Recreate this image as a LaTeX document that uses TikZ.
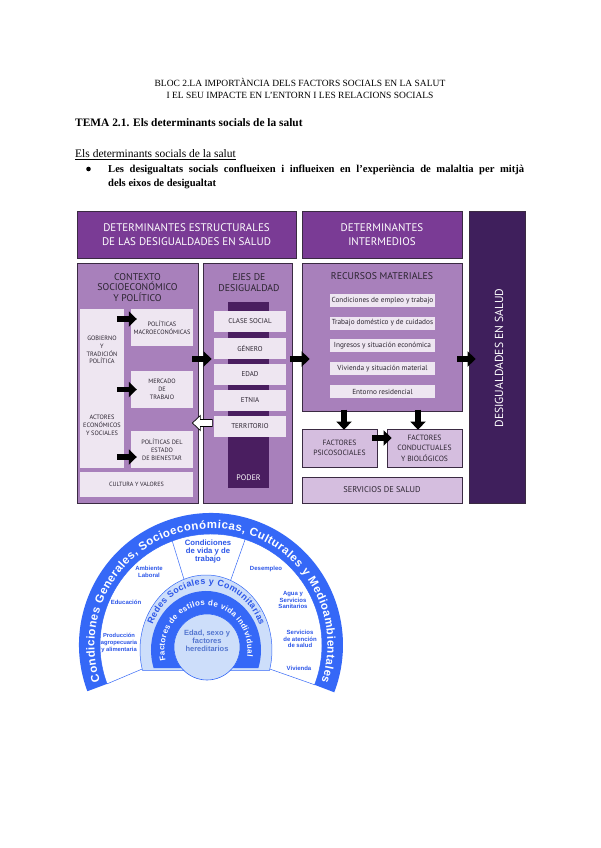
\documentclass[tikz,border=0pt]{standalone}
\usepackage{fontspec}
\setmainfont{Liberation Serif}
\newfontfamily\dsans{PT Sans}
\newfontfamily\rsans{Liberation Sans}
\usetikzlibrary{arrows.meta,decorations.text,calc}
\newcommand{\fsz}[2]{\fontsize{#1}{#2}\selectfont}
\definecolor{hdrP}{HTML}{7A3B95}
\definecolor{darkP}{HTML}{3F1F5C}
\definecolor{panelP}{HTML}{A880BB}
\definecolor{lightP}{HTML}{EEE6F1}
\definecolor{factP}{HTML}{D5BEDF}
\definecolor{poderP}{HTML}{4A1E60}
\definecolor{edgeP}{HTML}{3A2A42}
\definecolor{txtP}{HTML}{2B2430}
\definecolor{ringB}{HTML}{3568F7}
\definecolor{lightB}{HTML}{CDDEFA}
\definecolor{textB}{HTML}{2C56E8}
\definecolor{circT}{HTML}{5577D0}
\begin{document}
\begin{tikzpicture}[x=1pt,y=-1pt,
  box/.style={draw=edgeP, line width=0.7pt, inner sep=0pt},
  panel/.style={box, fill=panelP},
  hdr/.style={box, fill=hdrP, text=white, align=center, font=\dsans\fsz{11}{14}},
  ttl/.style={inner sep=0pt, align=center, text=txtP, font=\dsans\fsz{9.8}{10.8}},
  itemc/.style={fill=lightP, inner sep=0pt, align=center, text=txtP},
  fact/.style={box, fill=factP, align=center, text=txtP, font=\dsans\fsz{7.6}{10.5}},
  coltxt/.style={inner sep=0pt, align=center, text=txtP, font=\dsans\fsz{6.3}{7.6}},
  smallbox/.style={itemc, minimum width=62pt, minimum height=37pt, font=\dsans\fsz{6.3}{8}},
  ejesitem/.style={itemc, minimum width=72pt, minimum height=21pt, font=\dsans\fsz{7}{8}},
  recitem/.style={itemc, minimum width=105pt, minimum height=13pt, font=\dsans\fsz{7.3}{8}},
  barrow/.style={line width=5.5pt, -{Triangle[width=15pt,length=8pt]}, black},
  rtxt/.style={text=textB, font=\rsans\bfseries\fsz{6}{6.8}, align=center, inner sep=0pt}]
\useasboundingbox (0,0) rectangle (600,848);
\fill[white] (0,0) rectangle (600,848);

% ---------- text header ----------
\node[inner sep=0pt, font=\fsz{9.5}{12}] (t1) at (300,82) {BLOC 2.LA IMPORTÀNCIA DELS FACTORS SOCIALS EN LA SALUT};
\node[inner sep=0pt, font=\fsz{9.5}{12}] (t2) at (300,95) {I EL SEU IMPACTE EN L’ENTORN I LES RELACIONS SOCIALS};
\node[inner sep=0pt, anchor=west, font=\bfseries\fsz{11.4}{13}] (tema) at (75,123) {TEMA 2.1. Els determinants socials de la salut};
\node[inner sep=0pt, anchor=west, font=\fsz{11.5}{13}] (sub) at (75,155) {\underline{Els determinants socials de la salut}};
\node[circle, fill=black, inner sep=0pt, minimum size=4.6pt] (bul) at (88.5,169) {};
\node[inner sep=0pt, anchor=north west, text width=416pt, align=justify, font=\bfseries\fsz{10.6}{14}] (btxt) at (108,164.5)
  {Les desigualtats socials conflueixen i influeixen en l’experiència de malaltia per mitjà\linebreak dels eixos de desigualtat};

% ---------- purple diagram ----------
\node[hdr, minimum width=219pt, minimum height=47pt] (hdrL) at (186.5,234.5) {DETERMINANTES ESTRUCTURALES\\DE LAS DESIGUALDADES EN SALUD};
\node[hdr, minimum width=160pt, minimum height=47pt] (hdrM) at (382,234.5) {DETERMINANTES\\INTERMEDIOS};
\node[box, fill=darkP, minimum width=56pt, minimum height=292pt] (tallR) at (497,357) {};
\node[text=white, inner sep=0pt, font=\dsans\fsz{11.6}{13}, rotate=90] (tallT) at (499,358) {DESIGUALDADES EN SALUD};

% contexto
\node[panel, minimum width=121pt, minimum height=240pt] (ctx) at (137.5,383) {};
\node[ttl] (ctxT) at (137.5,287.5) {CONTEXTO\\SOCIOECONÓMICO\\Y POLÍTICO};
\node[itemc, minimum width=44pt, minimum height=159pt] (col) at (102,388.5) {};
\node[coltxt] (gob) at (102,350) {GOBIERNO\\Y\\TRADICIÓN\\POLÍTICA};
\node[coltxt, font=\dsans\fsz{6.3}{8}] (act) at (102,425) {ACTORES\\ECONÓMICOS\\Y SOCIALES};
\node[smallbox] (macro) at (162,327.5) {POLÍTICAS\\MACROECONÓMICAS};
\node[smallbox] (merc) at (162,389.5) {MERCADO\\DE\\TRABAJO};
\node[smallbox] (estado) at (162,449.5) {POLÍTICAS DEL\\ESTADO\\DE BIENESTAR};
\node[itemc, minimum width=113pt, minimum height=25pt, font=\dsans\fsz{6.1}{7}] (cultura) at (136.5,484.5) {CULTURA Y VALORES};

% ejes
\node[panel, minimum width=89pt, minimum height=240pt] (ejes) at (247.5,383) {};
\node[ttl] (ejesT) at (249,282.5) {EJES DE\\DESIGUALDAD};
\node[fill=poderP, inner sep=0pt, minimum width=41pt, minimum height=186pt] (poder) at (248.5,395) {};
\node[ejesitem] (clase) at (250,321.5) {CLASE SOCIAL};
\node[ejesitem] (genero) at (250,348.5) {GÉNERO};
\node[ejesitem] (edadE) at (250,374.5) {EDAD};
\node[ejesitem] (etnia) at (250,400.5) {ETNIA};
\node[ejesitem] (terr) at (250,426.5) {TERRITORIO};
\node[text=white, inner sep=0pt, font=\dsans\fsz{8}{9}] (poderT) at (248.5,478) {PODER};

% recursos
\node[panel, minimum width=160pt, minimum height=148pt] (rec) at (382,337) {};
\node[ttl] (recT) at (382,276) {RECURSOS MATERIALES};
\node[recitem] (r1) at (382.5,300.5) {Condiciones de empleo y trabajo};
\node[recitem] (r2) at (382.5,323) {Trabajo doméstico y de cuidados};
\node[recitem] (r3) at (382.5,345.5) {Ingresos y situación económica};
\node[recitem] (r4) at (382.5,368.5) {Vivienda y situación material};
\node[recitem] (r5) at (382.5,391.5) {Entorno residencial};
\node[fact, minimum width=75pt, minimum height=38pt] (psico) at (339.5,448) {FACTORES\\PSICOSOCIALES};
\node[fact, minimum width=75pt, minimum height=38pt] (cond) at (424.5,448) {FACTORES\\CONDUCTUALES\\Y BIOLÓGICOS};
\node[fact, minimum width=160pt, minimum height=26pt, font=\dsans\fsz{8.4}{10}] (serv) at (382,490) {SERVICIOS DE SALUD};

% block arrows
\draw[barrow] ($(macro.west)+(-14,-8.5)$) -- ($(macro.west)+(6,-8.5)$);
\draw[barrow] ($(merc.west)+(-14,0)$) -- ($(merc.west)+(6,0)$);
\draw[barrow] ($(estado.west)+(-14,7.5)$) -- ($(estado.west)+(6,7.5)$);
\draw[barrow] ($(ctx.east)+(-6,-24)$) -- ($(ejes.west)+(9,-24)$);
\draw[barrow] ($(ejes.east)+(-2,-24)$) -- ($(rec.west)+(8,22)$);
\draw[barrow] ($(rec.east)+(-5,22)$) -- ($(tallR.west)+(7,2)$);
\draw[barrow] ($(psico.north)+(4.5,-19)$) -- ($(psico.north)+(4.5,1)$);
\draw[barrow] ($(cond.north)+(-6.5,-19)$) -- ($(cond.north)+(-6.5,1)$);
\draw[barrow] ($(psico.east)+(-5,-10)$) -- ($(cond.west)+(5,-10)$);
\coordinate (wtip) at ($(ctx.east)+(-6,40)$);
\draw[fill=white, draw=black, line width=0.7pt, line join=miter] (wtip) -- ++(8,-7.5) -- ++(0,4) -- ++(12,0) -- ++(0,7) -- ++(-12,0) -- ++(0,4) -- cycle;

% ---------- rainbow diagram ----------
\begin{scope}[shift={(211,645)}, y=1pt]
  \filldraw[fill=white, draw=ringB, line width=0.5pt] (200.5:111) arc[start angle=200.5, end angle=-21, radius=111] -- (58.8,-24) -- (-68.8,-24) -- cycle;
\end{scope}
\draw[ringB, line width=0.5pt] (171,537) -- (184,579.3) (246,537) -- (230.6,580.4);
\begin{scope}[shift={(211,645)}, y=1pt]
  \fill[ringB] (200.5:132) arc[start angle=200.5, end angle=-21, radius=132] -- (-21:111) arc[start angle=-21, end angle=200.5, radius=111] -- cycle;
  \path[decorate, decoration={text along path, text align={fit to path},
    text={|\rsans\bfseries\fsz{11.5}{13}\color{white}|Condiciones Generales, Socioeconómicas, Culturales y Medioambientales}}]
    (198:116.5) arc[start angle=198, end angle=-18.5, radius=116.5];
\end{scope}
\begin{scope}[shift={(206,650)}, y=1pt]
  \filldraw[fill=lightB, draw=ringB, line width=0.5pt] (195.67:66 and 75) arc[start angle=195.67, end angle=-15.67, x radius=66, y radius=75] -- cycle;
  \fill[ringB] (197.76:55 and 59) arc[start angle=197.76, end angle=-17.76, x radius=55, y radius=59] -- cycle;
  \filldraw[fill=lightB, draw=ringB, line width=0.6pt] (1,3) circle[radius=33];
  \path[decorate, decoration={text along path, text align={fit to path},
    text={|\rsans\bfseries\fsz{8.9}{10}\color{textB}|Redes Sociales y Comunitarias}}]
    (157:58 and 65.5) arc[start angle=157, end angle=22, x radius=58, y radius=65.5];
  \path[decorate, decoration={text along path, text align={fit to path},
    text={|\rsans\bfseries\fsz{7.9}{9}\color{white}|Factores de estilos de vida individual}}]
    (194:41.5 and 44.5) arc[start angle=194, end angle=-8, x radius=41.5, y radius=44.5];
\end{scope}
\node[rtxt, font=\rsans\bfseries\fsz{7.7}{8.2}] (cvt) at (208,551.5) {Condiciones\\de vida y de\\trabajo};
\node[rtxt] (amb) at (149,572) {Ambiente\\Laboral};
\node[rtxt] (edu) at (126,602) {Educación};
\node[rtxt, font=\rsans\bfseries\fsz{5.8}{6.6}] (prod) at (119,643) {Producción\\agropecuaria\\y alimentaria};
\node[rtxt] (des) at (266,569) {Desempleo};
\node[rtxt] (agua) at (293,600) {Agua y\\Servicios\\Sanitarios};
\node[rtxt] (serva) at (300,639) {Servicios\\de atención\\de salud};
\node[rtxt] (viv) at (299,668) {Vivienda};
\node[text=circT, inner sep=0pt, align=center, font=\rsans\bfseries\fsz{7.5}{8}] (edad) at (207,641) {Edad, sexo y\\factores\\hereditarios};
\end{tikzpicture}
\end{document}
